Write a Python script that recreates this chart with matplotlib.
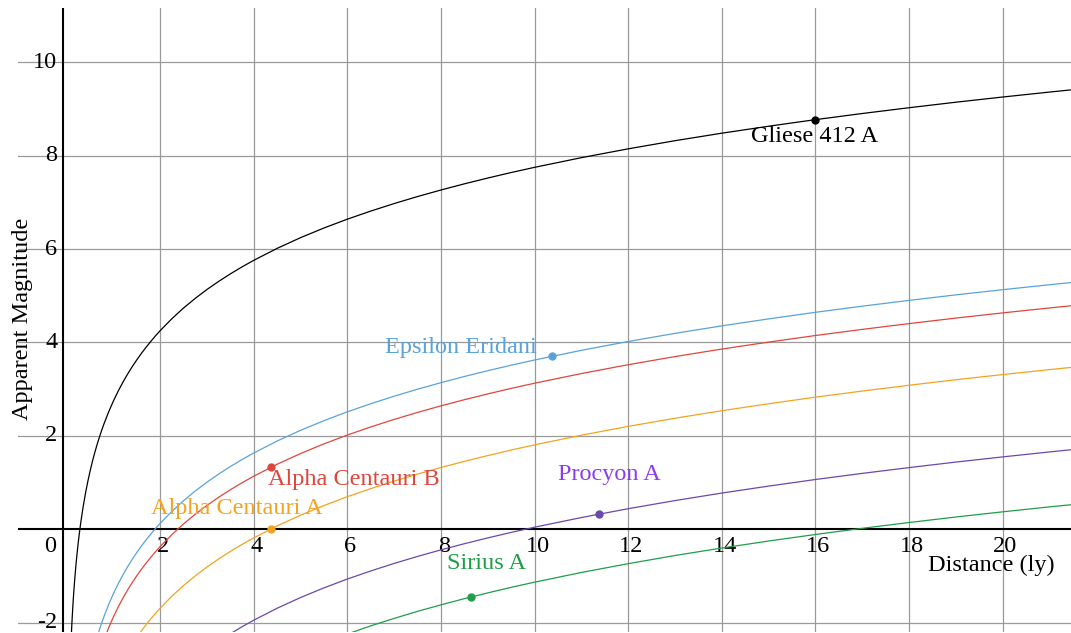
import matplotlib
matplotlib.use('Agg')
import matplotlib.pyplot as plt

plt.rcParams['font.family'] = ['Liberation Serif', 'DejaVu Serif']

# star marker points (distance ly, apparent magnitude)
stars = ['Gliese 412 A', 'Epsilon Eridani', 'Alpha Centauri B',
         'Alpha Centauri A', 'Procyon A', 'Sirius A']
star_dist = [15.99, 10.37, 4.37, 4.37, 11.38, 8.64]
star_mag = [8.77, 3.70, 1.33, 0.01, 0.33, -1.45]

# curve samples
gliese_d = [0.1, 0.11, 0.12, 0.13, 0.14, 0.15, 0.17, 0.2, 0.22, 0.25, 0.27, 0.3, 0.35, 0.4, 0.45,
            0.5, 0.55, 0.6, 0.65, 0.7, 0.75, 0.8, 0.9, 1.0, 1.1, 1.2, 1.3, 1.4, 1.5, 1.6, 1.7, 1.8,
            1.9, 2, 2.25, 2.5, 2.75, 3, 3.25, 3.5, 3.75, 4, 4.5, 5, 5.5, 6, 6.5, 7, 7.5, 8, 8.5, 9,
            9.5, 10, 11, 12, 13, 14, 15, 16, 17, 18, 19, 20, 21, 21.5]
gliese_m = [-2.25, -2.044, -1.855, -1.682, -1.52, -1.37, -1.099, -0.746, -0.539, -0.261, -0.094,
            0.135, 0.469, 0.759, 1.015, 1.244, 1.451, 1.64, 1.814, 1.974, 2.124, 2.264, 2.52,
            2.749, 2.956, 3.145, 3.319, 3.48, 3.629, 3.77, 3.901, 4.025, 4.143, 4.254, 4.51,
            4.739, 4.945, 5.135, 5.308, 5.469, 5.619, 5.759, 6.015, 6.244, 6.451, 6.64, 6.813,
            6.974, 7.124, 7.264, 7.396, 7.52, 7.638, 7.749, 7.956, 8.145, 8.319, 8.48, 8.629,
            8.77, 8.901, 9.025, 9.143, 9.254, 9.36, 9.411]

eps_d = [0.6, 0.65, 0.7, 0.75, 0.8, 0.9, 1.0, 1.1, 1.2, 1.3, 1.4, 1.5, 1.6, 1.7, 1.8, 1.9, 2,
         2.25, 2.5, 2.75, 3, 3.25, 3.5, 3.75, 4, 4.5, 5, 5.5, 6, 6.5, 7, 7.5, 8, 8.5, 9, 9.5, 10,
         11, 12, 13, 14, 15, 16, 17, 18, 19, 20, 21, 21.5]
eps_m = [-2.485, -2.311, -2.151, -2.001, -1.861, -1.605, -1.376, -1.169, -0.98, -0.806, -0.645,
         -0.496, -0.355, -0.224, -0.1, 0.018, 0.129, 0.385, 0.614, 0.82, 1.01, 1.183, 1.344,
         1.494, 1.634, 1.89, 2.119, 2.326, 2.515, 2.688, 2.849, 2.999, 3.139, 3.271, 3.395,
         3.513, 3.624, 3.831, 4.02, 4.194, 4.355, 4.504, 4.645, 4.776, 4.9, 5.018, 5.129,
         5.235, 5.286]

acb_d = [0.8, 0.9, 1.0, 1.1, 1.2, 1.3, 1.4, 1.5, 1.6, 1.7, 1.8, 1.9, 2, 2.25, 2.5, 2.75, 3,
         3.25, 3.5, 3.75, 4, 4.5, 5, 5.5, 6, 6.5, 7, 7.5, 8, 8.5, 9, 9.5, 10, 11, 12, 13, 14, 15,
         16, 17, 18, 19, 20, 21, 21.5]
acb_m = [-2.358, -2.102, -1.873, -1.666, -1.477, -1.303, -1.142, -0.993, -0.852, -0.721, -0.597,
         -0.479, -0.368, -0.112, 0.117, 0.323, 0.513, 0.686, 0.847, 0.997, 1.137, 1.393, 1.622,
         1.829, 2.018, 2.191, 2.352, 2.502, 2.642, 2.774, 2.898, 3.016, 3.127, 3.334, 3.523,
         3.697, 3.858, 4.007, 4.148, 4.279, 4.403, 4.521, 4.632, 4.738, 4.789]

aca_d = [1.4, 1.5, 1.6, 1.7, 1.8, 1.9, 2, 2.25, 2.5, 2.75, 3, 3.25, 3.5, 3.75, 4, 4.5, 5, 5.5,
         6, 6.5, 7, 7.5, 8, 8.5, 9, 9.5, 10, 11, 12, 13, 14, 15, 16, 17, 18, 19, 20, 21, 21.5]
aca_m = [-2.462, -2.313, -2.172, -2.041, -1.917, -1.799, -1.688, -1.432, -1.203, -0.997, -0.807,
         -0.634, -0.473, -0.323, -0.183, 0.073, 0.302, 0.509, 0.698, 0.871, 1.032, 1.182,
         1.322, 1.454, 1.578, 1.696, 1.807, 2.014, 2.203, 2.377, 2.538, 2.687, 2.828, 2.959,
         3.083, 3.201, 3.312, 3.418, 3.469]

procyon_d = [3.5, 3.75, 4, 4.5, 5, 5.5, 6, 6.5, 7, 7.5, 8, 8.5, 9, 9.5, 10, 11, 12, 13, 14, 15,
             16, 17, 18, 19, 20, 21, 21.5]
procyon_m = [-2.236, -2.086, -1.946, -1.69, -1.461, -1.254, -1.065, -0.892, -0.731, -0.581,
             -0.441, -0.309, -0.185, -0.067, 0.044, 0.251, 0.44, 0.614, 0.775, 0.924, 1.065,
             1.196, 1.32, 1.438, 1.549, 1.655, 1.706]

sirius_d = [6, 6.5, 7, 7.5, 8, 8.5, 9, 9.5, 10, 11, 12, 13, 14, 15, 16, 17, 18, 19, 20, 21, 21.5]
sirius_m = [-2.242, -2.068, -1.908, -1.757, -1.618, -1.485, -1.362, -1.243, -1.133, -0.925,
            -0.737, -0.562, -0.402, -0.252, -0.112, 0.02, 0.144, 0.262, 0.373, 0.479, 0.529]

curves = [(gliese_d, gliese_m), (eps_d, eps_m), (acb_d, acb_m),
          (aca_d, aca_m), (procyon_d, procyon_m), (sirius_d, sirius_m)]
line_colors = ['#000000', '#5aa2dc', '#e0463c', '#f5a31e', '#6a48ae', '#1f9e48']
label_colors = ['#000000', '#5aa2dc', '#e0463c', '#f5a31e', '#8a3cf0', '#1f9e48']
# label offsets in pixels from the point, with alignment
label_pos = [((0, -17), 'center'), ((-15, 9), 'right'), ((-3, -12), 'left'),
             ((-34, 20), 'center'), ((10, 39), 'center'), ((15, 33), 'center')]

xticks = [2, 4, 6, 8, 10, 12, 14, 16, 18, 20]
yticks = [-2, 2, 4, 6, 8, 10]

fig = plt.figure(figsize=(10.71, 6.33), dpi=100)
ax = fig.add_axes([18 / 1071, 1 / 633, 1 - 18 / 1071, 624 / 633])
ax.set_xlim(-1.04, 21.46)
ax.set_ylim(-2.2, 11.16)
ax.axis('off')

for x in xticks:
    ax.axvline(x, color='#9a9a9a', lw=0.9, zorder=1)
for y in yticks:
    ax.axhline(y, color='#9a9a9a', lw=0.9, zorder=1)
ax.axhline(0, color='black', lw=1.5, zorder=2)
ax.axvline(-0.08, color='black', lw=1.5, zorder=2)

fs = 17.5
for x in xticks:
    ax.text(x + 0.06, -0.36, str(x), ha='center', va='center', fontsize=fs)
for y in yticks:
    ax.text(-0.2, y, str(y), ha='right', va='center', fontsize=fs)
ax.text(-0.36, -0.36, '0', ha='center', va='center', fontsize=fs)

ax.text(-0.95, 4.5, 'Apparent Magnitude', rotation=90, ha='center', va='center', fontsize=fs)
ax.text(19.75, -0.78, 'Distance (ly)', ha='center', va='center', fontsize=fs)

for (d, m), c in zip(curves, line_colors):
    ax.plot(d, m, color=c, lw=0.9, zorder=3)

for i, name in enumerate(stars):
    ax.plot(star_dist[i], star_mag[i], 'o', color=line_colors[i], ms=5, zorder=4)
    off, ha = label_pos[i]
    ax.annotate(name, (star_dist[i], star_mag[i]), xytext=off, textcoords='offset pixels',
                ha=ha, va='center', fontsize=fs, color=label_colors[i], zorder=5)

plt.savefig('out.png', dpi=100, facecolor='white')
plt.close('all')
